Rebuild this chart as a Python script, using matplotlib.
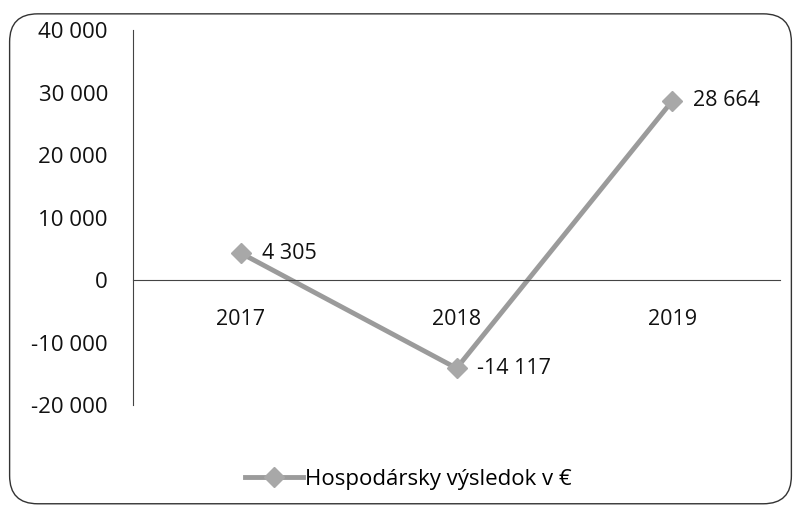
import matplotlib
matplotlib.use('Agg')
import matplotlib.pyplot as plt
from matplotlib.patches import FancyBboxPatch

# údaje
roky = ['2017', '2018', '2019']
vysledok = [4305, -14117, 28664]
nazov_radu = 'Hospodársky výsledok v €'
y_ticky = [-20000, -10000, 0, 10000, 20000, 30000, 40000]


def fmt(v):
    # medzera ako oddeľovač tisícov
    return '{:,}'.format(v).replace(',', ' ')


plt.rcParams['font.family'] = ['Open Sans', 'DejaVu Sans']

fig = plt.figure(figsize=(8.01, 5.13), dpi=100)
ax = fig.add_axes([0.166, 0.2105, 0.808, 0.731])

# zaoblený rámik grafu
ram = FancyBboxPatch((0.012, 0.018), 0.976, 0.955,
                     boxstyle='round,pad=0,rounding_size=0.035',
                     transform=fig.transFigure, fill=False,
                     edgecolor='#333333', linewidth=1.0, mutation_aspect=1.56)
fig.patches.append(ram)

# os x na nule (najprv, lebo set_position resetuje ticky)
for s in ['top', 'right']:
    ax.spines[s].set_visible(False)
ax.spines['left'].set_color('#444444')
ax.spines['bottom'].set_position(('data', 0))
ax.spines['bottom'].set_color('#444444')

x = list(range(len(roky)))
ax.plot(x, vysledok, color='#9b9b9b', linewidth=3.5, marker='D',
        markersize=10, markerfacecolor='#a8a8a8', markeredgecolor='#a8a8a8',
        label=nazov_radu)

for xi, v in zip(x, vysledok):
    ax.annotate(fmt(v), (xi, v), xytext=(15, 0), textcoords='offset points',
                va='center', ha='left', fontsize=15.5, color='#111111')

ax.set_xlim(-0.5, 2.5)
ax.set_ylim(-20000, 40000)
ax.set_yticks(y_ticky)
ax.set_yticklabels([fmt(t) for t in y_ticky])
ax.set_xticks(x)
ax.set_xticklabels(roky)
ax.tick_params(axis='y', length=0, pad=18, labelsize=16, labelcolor='#111111')
ax.tick_params(axis='x', length=0, pad=21, labelsize=15.5, labelcolor='#111111')

fig.legend(loc='center', bbox_to_anchor=(0.51, 0.065), frameon=False,
           fontsize=16, handlelength=2.6, handletextpad=0.1)

fig.savefig('out.png', dpi=100)
